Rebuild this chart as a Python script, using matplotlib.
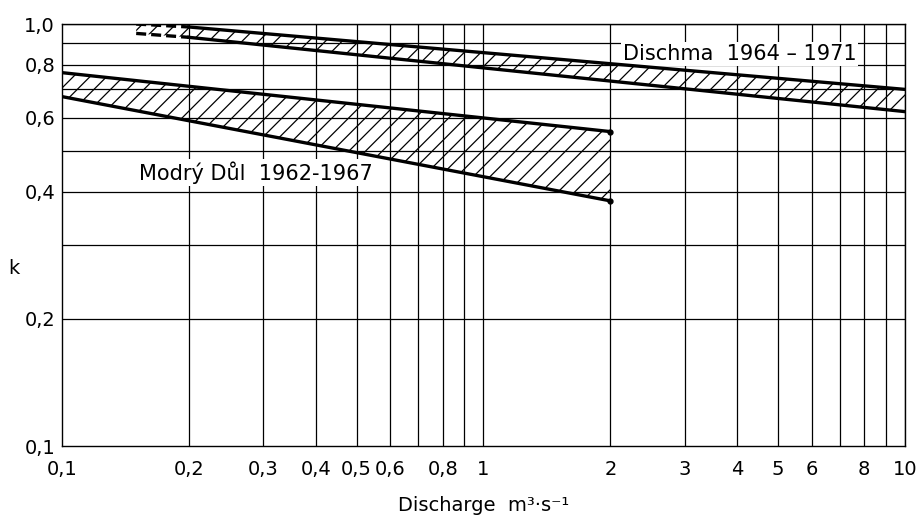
import matplotlib
matplotlib.use("Agg")
import matplotlib.pyplot as plt
from matplotlib.ticker import FixedLocator, NullLocator

plt.rcParams['font.family'] = ['DejaVu Sans']
plt.rcParams['hatch.linewidth'] = 0.9

# Dischma 1964-1971 (first segment dashed)
dischma_q = [0.15, 0.2, 10]
dischma_upper = [1.0, 0.984, 0.70]
dischma_lower = [0.95, 0.93, 0.62]

# Modry Dul 1962-1967
modry_q = [0.1, 2]
modry_upper = [0.767, 0.556]
modry_lower = [0.673, 0.381]

x_grid = [0.2, 0.3, 0.4, 0.5, 0.6, 0.7, 0.8, 0.9, 1, 2, 3, 4, 5, 6, 7, 8, 9, 10]
x_ticks = [0.1, 0.2, 0.3, 0.4, 0.5, 0.6, 0.8, 1, 2, 3, 4, 5, 6, 8, 10]
x_labels = ["0,1", "0,2", "0,3", "0,4", "0,5", "0,6", "0,8", "1", "2", "3", "4", "5", "6", "8", "10"]
y_grid = [0.2, 0.3, 0.4, 0.5, 0.6, 0.7, 0.8, 0.9, 1.0]
y_ticks = [0.1, 0.2, 0.4, 0.6, 0.8, 1.0]
y_labels = ["0,1", "0,2", "0,4", "0,6", "0,8", "1,0"]

fig = plt.figure(figsize=(9.22, 5.2), dpi=100)
ax = fig.add_axes([0.0672, 0.1423, 0.9144, 0.8115])
ax.set_xscale("log")
ax.set_yscale("log")
ax.set_xlim(0.1, 10)
ax.set_ylim(0.1, 1.0)

# grid
for xv in x_grid:
    ax.axvline(xv, color="black", lw=0.9, zorder=1)
for yv in y_grid:
    ax.axhline(yv, color="black", lw=0.9, zorder=1)

# bands
ax.fill_between(modry_q, modry_lower, modry_upper, facecolor="none",
                edgecolor="black", hatch="//", lw=0, zorder=2)
ax.plot(modry_q, modry_upper, color="black", lw=2.4, zorder=3)
ax.plot(modry_q, modry_lower, color="black", lw=2.4, zorder=3)
ax.plot(modry_q[-1:], modry_upper[-1:], "o", color="black", ms=3.5, zorder=3)
ax.plot(modry_q[-1:], modry_lower[-1:], "o", color="black", ms=3.5, zorder=3)

ax.fill_between(dischma_q, dischma_lower, dischma_upper, facecolor="none",
                edgecolor="black", hatch="//", lw=0, zorder=2)
ax.plot(dischma_q[1:], dischma_upper[1:], color="black", lw=2.4, zorder=3)
ax.plot(dischma_q[1:], dischma_lower[1:], color="black", lw=2.4, zorder=3)
ax.plot(dischma_q[:2], dischma_upper[:2], color="black", lw=2.4, ls=(0, (3, 1.5)), zorder=3)
ax.plot(dischma_q[:2], dischma_lower[:2], color="black", lw=2.4, ls=(0, (3, 1.5)), zorder=3)

ax.text(0.152, 0.445, "Modrý Důl  1962-1967", fontsize=15, ha="left", va="center",
        bbox=dict(facecolor="white", edgecolor="none", pad=1.5), zorder=2.5)
ax.text(2.14, 0.848, "Dischma  1964 – 1971", fontsize=15, ha="left", va="center",
        bbox=dict(facecolor="white", edgecolor="none", pad=1.5), zorder=2.5)

# ticks
ax.xaxis.set_major_locator(FixedLocator(x_ticks))
ax.xaxis.set_minor_locator(NullLocator())
ax.set_xticklabels(x_labels)
ax.yaxis.set_major_locator(FixedLocator(y_ticks))
ax.yaxis.set_minor_locator(NullLocator())
ax.set_yticklabels(y_labels)
ax.tick_params(axis="x", length=0, labelsize=14, pad=10)
ax.tick_params(axis="y", length=0, labelsize=14, pad=5)
for s in ax.spines.values():
    s.set_linewidth(1.0)

ax.set_xlabel("Discharge  m³·s⁻¹", fontsize=14, labelpad=12)
fig.text(8 / 922, 1 - 268 / 520, "k", fontsize=14, ha="left", va="center")

fig.savefig("out.png", dpi=100)
